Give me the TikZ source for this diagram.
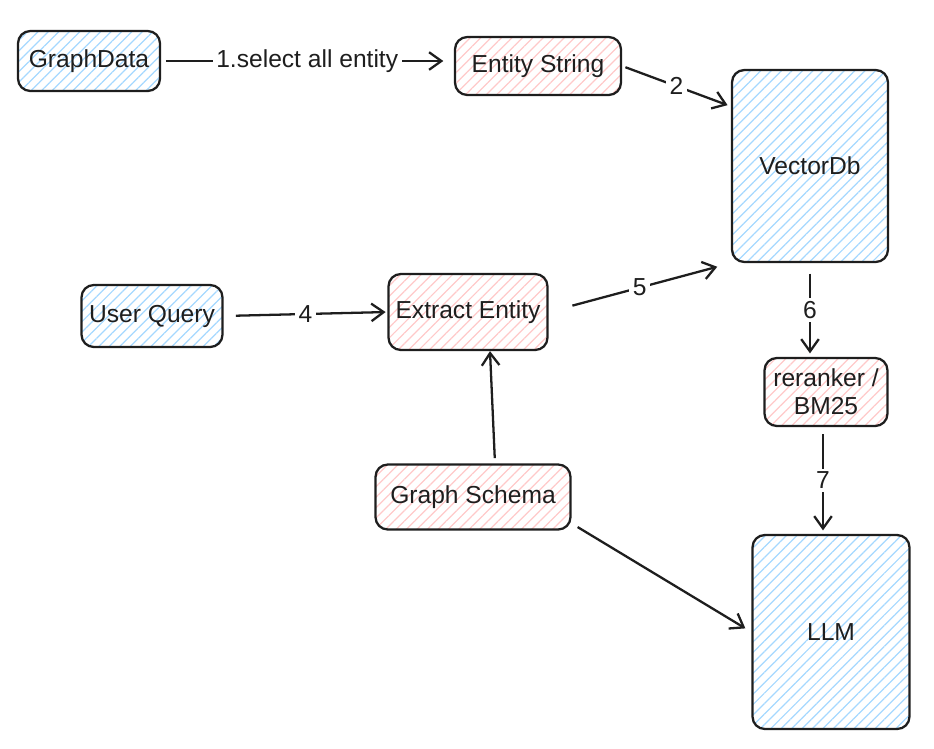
\documentclass[tikz,border=0pt]{standalone}
\usepackage{fontspec}
\setmainfont{Liberation Sans}
\usepackage{tikz}
\usetikzlibrary{arrows.meta,patterns.meta}

\definecolor{inkc}{HTML}{1E1E1E}
\definecolor{hatchblue}{HTML}{A5D8FF}
\definecolor{hatchred}{HTML}{FFC9C9}

\begin{document}
\begin{tikzpicture}[x=0.02cm,y=-0.02cm,
    every node/.style={font=\fontsize{14}{16}\selectfont, text=inkc},
    box/.style={draw=inkc, line width=1.3pt, rounded corners=7pt, align=center, inner sep=2pt},
    bluebox/.style={box, pattern={Lines[angle=45,distance=4.2pt,line width=0.7pt]}, pattern color=hatchblue},
    redbox/.style={box, pattern={Lines[angle=45,distance=4.2pt,line width=0.7pt]}, pattern color=hatchred},
    link/.style={draw=inkc, line width=1.3pt, -{Straight Barb[length=7pt,width=10pt,line width=1.3pt]}},
    lbl/.style={fill=white, inner sep=2pt}]
    \useasboundingbox (0,0) rectangle (934,748);
    % boxes
    \node [bluebox, minimum width=2.84cm, minimum height=1.2cm] (gd) at (89,61) {GraphData};
    \node [redbox, minimum width=3.32cm, minimum height=1.16cm] (es) at (538,66) {Entity String};
    \node [bluebox, minimum width=3.12cm, minimum height=3.84cm] (vdb) at (810,166) {VectorDb};
    \node [bluebox, minimum width=2.82cm, minimum height=1.24cm] (uq) at (152,316) {User Query};
    \node [redbox, minimum width=3.18cm, minimum height=1.52cm] (ee) at (468,312) {Extract Entity};
    \node [redbox, minimum width=2.46cm, minimum height=1.36cm] (rr) at (826,392) {reranker /\\BM25};
    \node [redbox, minimum width=3.9cm, minimum height=1.3cm] (gs) at (473,497) {Graph Schema};
    \node [bluebox, minimum width=3.14cm, minimum height=3.88cm] (llm) at (831,632) {LLM};
    % arrows
    \draw [link, shorten <=3, shorten >=6] (gd.east) -- (gd.east -| es.west)
        node [lbl, midway] {1.select all entity};
    \draw [link, shorten <=2, shorten >=2] (es.east) -- (vdb.143)
        node [lbl, midway] {2};
    \draw [link, shorten <=7, shorten >=1] (uq.east) -- (ee.west)
        node [lbl, midway] {4};
    \draw [link, shorten <=14, shorten >=8] (ee.east) -- (vdb.south west)
        node [lbl, midway] {5};
    \draw [link, shorten <=6, shorten >=2] (vdb.south) -- (vdb.south |- rr.north)
        node [lbl, midway] {6};
    \draw [link, shorten <=4, shorten >=2] ([xshift=-0.06cm]rr.south) -- ([xshift=-0.06cm]rr.south |- llm.north)
        node [lbl, midway] {7};
    \draw [link, shorten <=3, shorten >=0] ([xshift=0.44cm]gs.north) -- ([xshift=0.44cm]ee.south);
    \draw [link, shorten <=4, shorten >=4] (gs.345) -- (llm.west);
\end{tikzpicture}
\end{document}
